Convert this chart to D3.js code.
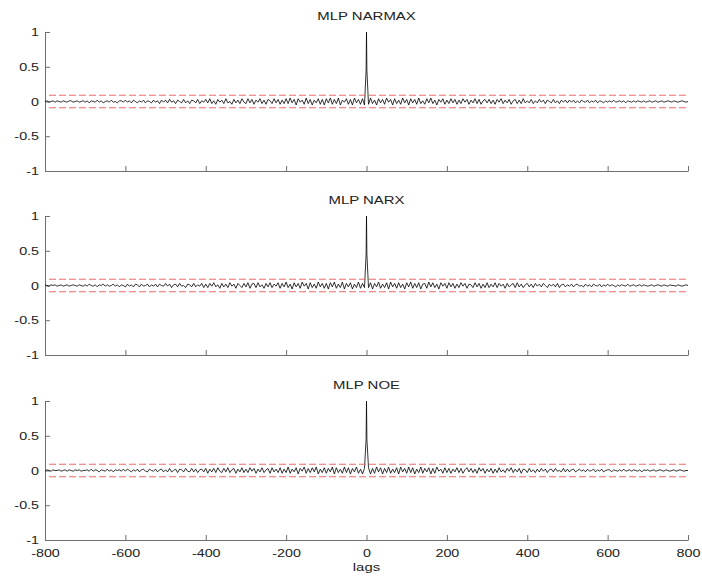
<!DOCTYPE html>
<html>
<head>
<meta charset="utf-8">
<script src="https://cdn.jsdelivr.net/npm/d3@7"></script>
<style>
  html, body { margin: 0; padding: 0; background: #fff; }
  svg { display: block; }
  text { font-family: "Liberation Sans", Arial, Helvetica, sans-serif; fill: #222; }
</style>
</head>
<body>
<svg id="chart" width="702" height="581"></svg>
<script>
// ---------------- data ----------------
const titles = ["MLP NARMAX", "MLP NARX", "MLP NOE"];
const xTicks = [-800, -600, -400, -200, 0, 200, 400, 600, 800];
const xTickLabels = ["-800", "-600", "-400", "-200", "0", "200", "400", "600", "800"];
const yTicks = [-1, -0.5, 0, 0.5, 1];
const yTickLabels = ["-1", "-0.5", "0", "0.5", "1"];
const confLevel = 0.09;   // confidence bounds (±)
const xLabel = "lags";

// lag grid: every 5 lags, plus lags -1, 0, 1 around the peak
const lags = [...d3.range(-800, 0, 5), -1, 0, 1, ...d3.range(5, 801, 5)];

const narmax = [
  0.00, 0.01, -0.01, 0.00, 0.01, -0.01, 0.01, 0.00, -0.01, 0.01, 0.00, -0.01, 0.01, 0.01, -0.01, 0.00, 0.01, -0.01, 0.00, 0.01,
  -0.01, 0.01, -0.02, 0.01, 0.00, -0.01, 0.02, -0.01, 0.01, -0.02, 0.00, 0.01, -0.01, 0.02, -0.01, 0.00, -0.02, 0.01, 0.01, -0.01,
  0.02, -0.01, 0.01, -0.02, 0.02, 0.00, -0.02, 0.01, -0.01, 0.02, -0.02, 0.01, 0.00, -0.02, 0.02, -0.01, 0.01, -0.03, 0.02, -0.01,
  0.02, -0.02, 0.03, -0.01, 0.01, -0.03, 0.02, 0.00, -0.02, 0.03, -0.02, 0.01, -0.03, 0.02, 0.01, -0.02, 0.03, -0.03, 0.01, -0.01,
  0.03, -0.02, 0.04, -0.03, 0.01, -0.04, 0.03, -0.01, 0.02, -0.03, 0.04, -0.02, 0.00, -0.04, 0.03, -0.02, 0.02, -0.03, 0.04, -0.01,
  -0.03, 0.04, -0.02, 0.03, -0.04, 0.02, -0.01, 0.04, -0.03, 0.02, -0.04, 0.03, 0.01, -0.03, 0.04, -0.02, 0.03, -0.04, 0.02, -0.03,
  0.04, -0.03, 0.05, -0.02, 0.03, -0.05, 0.04, -0.01, 0.02, -0.04, 0.05, -0.03, 0.03, -0.05, 0.02, -0.02, 0.04, -0.04, 0.03, -0.05,
  0.04, -0.02, 0.05, -0.04, 0.03, -0.03, 0.05, -0.05, 0.02, -0.01, 0.04, -0.04, 0.03, -0.05, 0.05, -0.02, 0.03, -0.04, 0.04, -0.05,
  0.45, 1.00, 0.45,
  -0.04, 0.05, -0.03, 0.02, -0.05, 0.04, -0.02, 0.03, -0.04, 0.05, -0.01, 0.03, -0.05, 0.04, -0.03, 0.02, -0.04, 0.05, -0.02, 0.03,
  -0.05, 0.04, -0.02, 0.03, -0.04, 0.05, -0.03, 0.01, -0.04, 0.04, -0.02, 0.05, -0.03, 0.02, -0.05, 0.03, -0.01, 0.04, -0.04, 0.02,
  -0.03, 0.04, -0.02, 0.03, -0.04, 0.02, -0.03, 0.04, -0.01, 0.03, -0.04, 0.02, -0.02, 0.04, -0.03, 0.03, -0.04, 0.01, 0.03, -0.02,
  0.03, -0.03, 0.02, -0.04, 0.03, -0.01, 0.04, -0.03, 0.02, -0.02, 0.03, -0.04, 0.01, 0.03, -0.03, 0.02, -0.03, 0.04, -0.02, 0.01,
  -0.02, 0.03, -0.03, 0.01, -0.02, 0.03, -0.01, 0.02, -0.03, 0.02, 0.00, -0.02, 0.03, -0.02, 0.01, -0.03, 0.02, -0.01, 0.02, -0.02,
  0.02, -0.01, 0.02, -0.02, 0.01, -0.02, 0.02, 0.00, -0.01, 0.02, -0.02, 0.01, -0.01, 0.02, -0.02, 0.01, 0.00, -0.02, 0.01, -0.01,
  0.01, -0.01, 0.02, -0.01, 0.00, 0.01, -0.01, 0.01, -0.02, 0.01, 0.00, -0.01, 0.01, -0.01, 0.01, 0.00, -0.01, 0.01, -0.01, 0.00,
  0.01, -0.01, 0.00, 0.01, -0.01, 0.00, 0.01, -0.01, 0.00, 0.01, 0.00, -0.01, 0.01, 0.00, -0.01, 0.00, 0.01, 0.00, -0.01, 0.00
];

const narx = [
  0.01, 0.00, -0.01, 0.01, 0.00, 0.01, -0.01, 0.00, 0.01, -0.01, 0.00, 0.01, -0.01, 0.00, 0.01, 0.00, -0.01, 0.01, 0.00, -0.01,
  0.01, -0.01, 0.02, 0.00, -0.01, 0.01, -0.02, 0.01, 0.00, 0.02, -0.01, 0.01, -0.01, 0.00, 0.02, -0.01, 0.01, -0.02, 0.01, 0.00,
  -0.02, 0.02, -0.01, 0.01, -0.02, 0.02, 0.01, -0.02, 0.02, -0.01, 0.00, 0.02, -0.02, 0.01, -0.01, 0.02, -0.02, 0.02, 0.00, -0.01,
  0.03, -0.01, 0.02, -0.03, 0.01, 0.02, -0.02, 0.03, -0.01, 0.00, -0.03, 0.02, 0.01, -0.02, 0.03, -0.02, 0.01, -0.01, 0.03, -0.03,
  0.02, -0.03, 0.03, -0.01, 0.04, -0.02, 0.01, -0.04, 0.03, -0.02, 0.02, -0.03, 0.04, -0.01, 0.02, -0.04, 0.03, 0.00, -0.03, 0.03,
  -0.02, 0.04, -0.04, 0.02, 0.03, -0.03, 0.04, -0.02, 0.01, -0.04, 0.03, -0.02, 0.04, -0.03, 0.02, -0.01, 0.04, -0.04, 0.03, -0.02,
  0.05, -0.03, 0.02, -0.05, 0.04, -0.02, 0.03, -0.04, 0.05, -0.01, 0.03, -0.05, 0.04, -0.03, 0.02, -0.04, 0.05, -0.02, 0.03, -0.04,
  0.03, -0.05, 0.04, -0.02, 0.05, -0.04, 0.02, -0.03, 0.05, -0.05, 0.03, -0.02, 0.04, -0.05, 0.02, -0.03, 0.05, -0.04, 0.03, -0.03,
  0.45, 1.00, 0.45,
  -0.03, 0.04, -0.05, 0.03, -0.02, 0.05, -0.04, 0.02, -0.03, 0.04, -0.05, 0.05, -0.02, 0.03, -0.04, 0.04, -0.03, 0.02, -0.05, 0.04,
  -0.02, 0.05, -0.04, 0.03, -0.03, 0.04, -0.05, 0.02, 0.03, -0.04, 0.05, -0.02, 0.04, -0.03, 0.02, -0.05, 0.04, -0.01, 0.03, -0.04,
  0.04, -0.02, 0.03, -0.04, 0.02, -0.03, 0.04, -0.01, 0.03, -0.04, 0.02, 0.01, -0.03, 0.04, -0.02, 0.03, -0.04, 0.02, -0.03, 0.04,
  -0.03, 0.02, -0.02, 0.04, -0.03, 0.03, -0.01, 0.02, -0.04, 0.03, -0.02, 0.01, 0.03, -0.03, 0.04, -0.02, 0.02, -0.03, 0.01, 0.03,
  -0.02, 0.02, -0.03, 0.03, -0.01, 0.02, -0.02, 0.03, 0.00, -0.03, 0.02, -0.01, 0.02, -0.02, 0.03, -0.03, 0.01, 0.02, -0.02, 0.01,
  -0.01, 0.02, -0.02, 0.01, 0.02, -0.01, 0.00, -0.02, 0.02, -0.01, 0.01, -0.02, 0.02, 0.00, -0.01, 0.02, -0.02, 0.01, -0.01, 0.02,
  -0.01, 0.01, 0.00, -0.02, 0.01, -0.01, 0.01, 0.00, -0.01, 0.02, -0.01, 0.00, 0.01, -0.01, 0.00, 0.01, -0.01, 0.01, 0.00, -0.01,
  0.00, 0.01, -0.01, 0.00, 0.01, 0.00, -0.01, 0.01, 0.00, -0.01, 0.01, 0.00, 0.00, -0.01, 0.01, 0.00, -0.01, 0.00, 0.01, 0.00
];

const noe = [
  -0.01, 0.01, 0.00, -0.01, 0.01, 0.00, 0.00, 0.01, -0.01, 0.00, 0.01, -0.01, 0.01, 0.00, -0.01, 0.01, 0.00, 0.01, -0.01, 0.00,
  0.00, 0.01, -0.01, 0.02, -0.01, 0.01, 0.00, -0.02, 0.01, 0.00, -0.01, 0.02, -0.01, 0.01, -0.02, 0.01, 0.00, 0.01, -0.01, 0.02,
  -0.01, 0.02, 0.00, -0.02, 0.01, -0.01, 0.02, -0.02, 0.01, 0.02, -0.01, -0.02, 0.02, 0.00, -0.01, 0.02, -0.02, 0.01, 0.02, -0.02,
  0.01, -0.02, 0.03, -0.02, 0.00, 0.02, -0.03, 0.02, 0.01, -0.02, 0.03, -0.01, -0.02, 0.03, -0.02, 0.02, -0.03, 0.01, 0.02, -0.02,
  0.03, -0.04, 0.02, -0.02, 0.03, -0.03, 0.04, -0.01, -0.03, 0.03, -0.02, 0.04, -0.03, 0.01, 0.03, -0.04, 0.02, -0.02, 0.04, -0.03,
  0.02, -0.03, 0.04, -0.01, 0.03, -0.04, 0.02, -0.02, 0.04, -0.03, 0.01, 0.03, -0.04, 0.04, -0.02, 0.02, -0.03, 0.04, -0.04, 0.02,
  -0.03, 0.05, -0.04, 0.02, -0.02, 0.04, -0.05, 0.03, -0.01, 0.05, -0.04, 0.03, -0.03, 0.04, -0.02, 0.05, -0.05, 0.02, -0.03, 0.04,
  -0.04, 0.03, -0.02, 0.05, -0.05, 0.04, -0.03, 0.02, -0.04, 0.05, -0.03, 0.04, -0.05, 0.03, -0.02, 0.05, -0.04, 0.02, -0.05, 0.03,
  0.45, 1.00, 0.45,
  0.04, -0.05, 0.03, -0.04, 0.05, -0.02, 0.04, -0.05, 0.03, -0.03, 0.05, -0.04, 0.02, -0.03, 0.04, -0.05, 0.05, -0.02, 0.03, -0.04,
  0.05, -0.03, 0.04, -0.05, 0.02, -0.03, 0.05, -0.04, 0.03, -0.02, 0.04, -0.05, 0.03, -0.04, 0.05, -0.01, 0.02, -0.04, 0.04, -0.03,
  0.03, -0.04, 0.02, -0.02, 0.04, -0.03, 0.03, -0.04, 0.01, 0.04, -0.02, 0.03, -0.03, 0.02, -0.04, 0.04, -0.01, 0.03, -0.04, 0.02,
  -0.02, 0.03, -0.04, 0.02, -0.03, 0.04, -0.02, 0.01, -0.03, 0.03, -0.01, 0.04, -0.03, 0.02, -0.02, 0.03, -0.04, 0.02, 0.01, -0.03,
  0.03, -0.02, 0.01, -0.03, 0.02, -0.02, 0.03, -0.01, 0.02, -0.03, 0.01, 0.02, -0.02, 0.03, -0.01, 0.00, -0.02, 0.03, -0.02, 0.02,
  -0.02, 0.01, 0.02, -0.02, 0.00, 0.02, -0.01, 0.01, -0.02, 0.02, -0.01, 0.00, 0.02, -0.02, 0.01, -0.01, 0.02, -0.02, 0.00, 0.01,
  0.01, -0.02, 0.01, 0.00, -0.01, 0.01, -0.01, 0.02, -0.01, 0.00, 0.01, -0.01, 0.01, 0.00, -0.01, 0.01, -0.02, 0.01, 0.00, 0.01,
  -0.01, 0.00, 0.01, -0.01, 0.00, 0.01, 0.00, -0.01, 0.01, 0.00, -0.01, 0.00, 0.01, -0.01, 0.00, 0.01, 0.00, -0.01, 0.00, 0.00
];

const seriesList = [narmax, narx, noe];

// ---------------- layout ----------------
const svg = d3.select("#chart");
const xLeft = 45, xRight = 688;
const panelTops = [32, 216, 401];
const panelH = 139;
const textScale = 1.3;   // reference text is horizontally stretched
const fontSize = 11;

const x = d3.scaleLinear().domain([-800, 800]).range([xLeft, xRight]);

seriesList.forEach((vals, i) => {
  const top = panelTops[i];
  const y = d3.scaleLinear().domain([-1, 1]).range([top + panelH, top]);
  const g = svg.append("g");
  const isBottom = i === seriesList.length - 1;

  // x axis
  const xa = g.append("g")
    .attr("transform", `translate(0,${top + panelH})`)
    .call(d3.axisBottom(x).tickValues(xTicks)
      .tickFormat((d, k) => isBottom ? xTickLabels[k] : "")
      .tickSizeInner(-5).tickSizeOuter(0).tickPadding(9));
  // y axis
  const ya = g.append("g")
    .attr("transform", `translate(${xLeft},0)`)
    .call(d3.axisLeft(y).tickValues(yTicks)
      .tickFormat((d, k) => yTickLabels[k])
      .tickSizeInner(-5).tickSizeOuter(0).tickPadding(6));

  [xa, ya].forEach(a => {
    a.select(".domain").attr("stroke", "#6e6e6e").attr("stroke-width", 1);
    a.selectAll(".tick line").attr("stroke", "#6e6e6e");
    a.selectAll("text").attr("font-size", fontSize)
      .attr("font-family", "'Liberation Sans', Arial, sans-serif")
      .attr("fill", "#222");
  });
  ya.selectAll(".tick text").attr("x", -6 / textScale).attr("transform", `scale(${textScale},1)`);
  xa.selectAll(".tick text").attr("transform", `scale(${textScale},1)`);

  // series line
  const pts = lags.map((l, k) => [l, vals[k]]).filter(p => p[1] !== undefined);
  g.append("path")
    .datum(pts)
    .attr("fill", "none")
    .attr("stroke", "#000")
    .attr("stroke-width", 0.8)
    .attr("stroke-linejoin", "round")
    .attr("d", d3.line().x(d => x(d[0])).y(d => y(d[1])));

  // confidence bounds
  [confLevel, -confLevel].forEach(c => {
    g.append("line")
      .attr("x1", x(-790)).attr("x2", x(800))
      .attr("y1", y(c)).attr("y2", y(c))
      .attr("stroke", "#ec6a6a")
      .attr("stroke-width", 1)
      .attr("stroke-dasharray", "7,3");
  });

  // title
  g.append("text")
    .attr("transform", `translate(${x(0)},${top - 12}) scale(${textScale},1)`)
    .attr("text-anchor", "middle")
    .attr("font-size", fontSize + 0.5)
    .text(titles[i]);
});

// x label
svg.append("text")
  .attr("transform", `translate(${x(0)},571) scale(${textScale},1)`)
  .attr("text-anchor", "middle")
  .attr("font-size", fontSize + 0.5)
  .text(xLabel);
</script>
</body>
</html>
